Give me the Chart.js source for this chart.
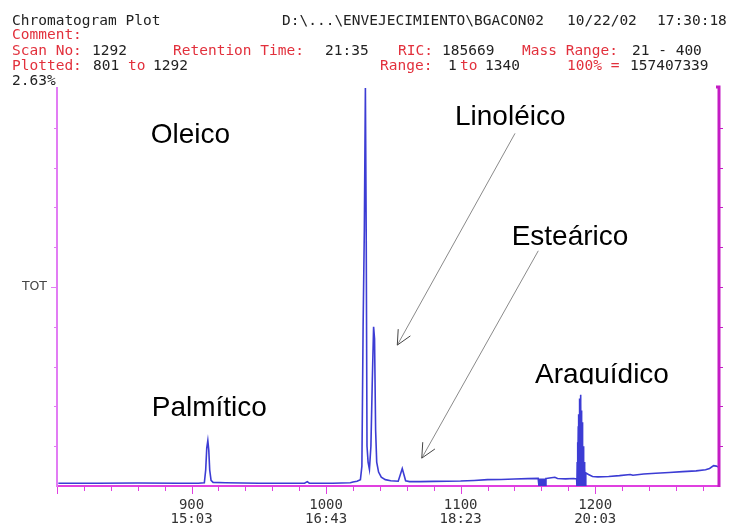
<!DOCTYPE html>
<html>
<head>
<meta charset="utf-8">
<script src="https://cdn.jsdelivr.net/npm/chart.js@4.4.0/dist/chart.umd.min.js"></script>
<style>
  body { margin: 0; background: #fff; }
  #wrap { position: relative; width: 730px; height: 527px; }
  #c { position: absolute; left: 0; top: 0; }
  .h { position: absolute; font-family: "DejaVu Sans Mono", monospace; font-size: 14.5px;
       line-height: 14.5px; white-space: pre; color: #222; }
  .r { color: #e2303c; }
</style>
</head>
<body>
<div id="wrap">
  <canvas id="c" width="730" height="527"></canvas>

  <!-- run header -->
  <div class="h" style="left:12px;top:12.7px">Chromatogram Plot</div>
  <div class="h" style="left:282px;top:12.7px">D:\...\ENVEJECIMIENTO\BGACON02</div>
  <div class="h" style="left:567px;top:12.7px">10/22/02</div>
  <div class="h" style="left:657px;top:12.7px">17:30:18</div>

  <div class="h r" style="left:12px;top:27px">Comment:</div>

  <div class="h r" style="left:12px;top:42.7px">Scan No:</div>
  <div class="h" style="left:92px;top:42.7px">1292</div>
  <div class="h r" style="left:173px;top:42.7px">Retention Time:</div>
  <div class="h" style="left:325px;top:42.7px">21:35</div>
  <div class="h r" style="left:398px;top:42.7px">RIC:</div>
  <div class="h" style="left:442px;top:42.7px">185669</div>
  <div class="h r" style="left:522px;top:42.7px">Mass Range:</div>
  <div class="h" style="left:632px;top:42.7px">21 - 400</div>

  <div class="h r" style="left:12px;top:57.5px">Plotted:</div>
  <div class="h" style="left:93px;top:57.5px">801</div>
  <div class="h r" style="left:128px;top:57.5px">to</div>
  <div class="h" style="left:153px;top:57.5px">1292</div>
  <div class="h r" style="left:380px;top:57.5px">Range:</div>
  <div class="h" style="left:448px;top:57.5px">1</div>
  <div class="h r" style="left:460px;top:57.5px">to</div>
  <div class="h" style="left:485px;top:57.5px">1340</div>
  <div class="h r" style="left:567px;top:57.5px">100% =</div>
  <div class="h" style="left:630px;top:57.5px">157407339</div>

  <div class="h" style="left:12px;top:73px">2.63%</div>
</div>

<script>
// Total ion chromatogram, scans 801-1292, intensity in % of full scale
const scans = [
  801, 830, 860, 890, 905, 909.5, 910.5, 911.3, 912.1, 912.8, 913.5, 914.5, 916,
  925, 950, 975, 984, 986, 987.5, 1005, 1018, 1020, 1023, 1025.5,
  1026.6, 1027.5, 1028.4, 1029.2, 1029.8, 1030.4, 1031.2, 1032.2,
  1033.3, 1034.3, 1035.3, 1036, 1036.8, 1037.6, 1039, 1041, 1044, 1048,
  1053.6, 1056.6, 1059.1, 1062, 1070, 1080, 1090, 1100, 1110, 1120, 1130, 1140, 1150,
  1157.6, 1158.2, 1158.6, 1159.0, 1159.4, 1159.8, 1160.2, 1160.6, 1161.0, 1161.4, 1161.8,
  1162.2, 1162.6, 1163.0, 1163.4, 1163.7,
  1166, 1170, 1172, 1178, 1184,
  1186.2, 1186.4, 1186.6, 1186.8, 1187.0, 1187.2, 1187.4, 1187.6, 1187.8, 1188.0,
  1188.2, 1188.4, 1188.6, 1188.8, 1189.0, 1189.2, 1189.4, 1189.6, 1189.8, 1190.0,
  1190.2, 1190.4, 1190.6, 1190.8, 1191.0, 1191.2, 1191.4, 1191.6, 1191.8, 1192.0,
  1192.3, 1192.6, 1193.0, 1195, 1198,
  1202, 1210, 1218, 1226, 1228, 1236, 1245, 1255, 1265, 1275, 1282, 1285, 1288, 1290, 1292
];
const intensity = [
  0.7, 0.7, 0.75, 0.7, 0.7, 0.8, 4, 9.5, 11.4, 9, 4, 1.4, 0.9,
  0.8, 0.7, 0.7, 0.7, 1.1, 0.7, 0.7, 0.8, 1.0, 1.2, 1.6,
  5, 40, 64, 100, 64, 10, 6, 4.2,
  10, 26, 40, 37, 14, 6, 3.5, 2.2, 1.6, 1.3,
  1.2, 4.4, 1.3, 1.1, 1.1, 1.15, 1.2, 1.25, 1.4, 1.6, 1.65, 1.75, 1.85,
  1.9, 0, 1.9, 0, 1.9, 0, 1.9, 0, 1.9, 0, 1.9,
  0, 1.9, 0, 1.9, 1.9,
  2.0, 2.2, 1.9, 1.8, 1.9,
  1.8, 0, 6, 0, 11, 0, 15, 0, 18, 0,
  20, 0, 22, 0, 22.9, 0, 21, 0, 19, 0,
  16, 0, 13, 0, 10, 0, 8, 0, 6, 0,
  4.5, 0, 3.3, 2.9, 2.4,
  2.3, 2.4, 2.6, 2.9, 2.7, 3.0, 3.2, 3.4, 3.6, 3.8, 4.1, 4.4, 5.1, 5.0, 4.7
];

// x axis: scan numbers with their retention times (mm:ss)
const majorScans = [900, 1000, 1100, 1200];
const timeLabels = ['15:03', '16:43', '18:23', '20:03'];
// y axis: a single labelled tick
const yTickValues = [50];
const yTickLabels = ['TOT'];

// peak names and where their labels / arrows sit, in scan / % units
const peakNames = ['Oleico', 'Linoléico', 'Esteárico', 'Araquídico', 'Palmítico'];
const labelAnchors = [
  { x: 869.6,  y: 86.1 },
  { x: 1095.8, y: 90.7 },
  { x: 1137.9, y: 60.6 },
  { x: 1155.3, y: 25.8, clip: true },
  { x: 870.4,  y: 17.6, clip: true }
];
const arrows = [
  { from: { x: 1140.4, y: 88.6 }, to: { x: 1052.9, y: 35.4 } },
  { from: { x: 1157.7, y: 59.1 }, to: { x: 1071.1, y: 7.0 } }
];

const MAGENTA = '#e040e0';

// small tick marks around the frame and the heavy right-hand border
const frameDecor = {
  id: 'frameDecor',
  afterDraw(chart) {
    const { ctx, chartArea: a, scales: { x, y } } = chart;
    ctx.save();
    ctx.lineWidth = 1;
    // bottom ticks: minor every 20 scans, major every 100
    ctx.strokeStyle = MAGENTA;
    for (let s = 800; s <= 1292; s += 20) {
      const px = Math.round(x.getPixelForValue(s)) + 0.5;
      const len = s % 100 === 0 ? 7 : 4;
      ctx.beginPath();
      ctx.moveTo(px, a.bottom + 1);
      ctx.lineTo(px, a.bottom + 1 + len);
      ctx.stroke();
    }
    // left and right ticks every 10 %
    for (let v = 10; v < 100; v += 10) {
      const py = Math.round(y.getPixelForValue(v)) + 0.5;
      ctx.strokeStyle = '#e27cf4';
      ctx.beginPath();
      ctx.moveTo(a.left - (v === 50 ? 6 : 3), py);
      ctx.lineTo(a.left - 1, py);
      ctx.stroke();
      ctx.strokeStyle = '#c41cc4';
      ctx.beginPath();
      ctx.moveTo(a.right + 1, py);
      ctx.lineTo(a.right + 4, py);
      ctx.stroke();
    }
    // right border
    ctx.strokeStyle = '#c41cc4';
    ctx.lineWidth = 3;
    ctx.beginPath();
    ctx.moveTo(a.right - 3, a.top - 1);
    ctx.lineTo(a.right, a.top - 1);
    ctx.lineTo(a.right, a.bottom + 1);
    ctx.stroke();
    ctx.restore();
  }
};

// peak names and pointer arrows
const peakLabels = {
  id: 'peakLabels',
  afterDatasetsDraw(chart) {
    const { ctx, scales: { x, y } } = chart;
    ctx.save();
    ctx.font = '28px "Liberation Sans", Arial, sans-serif';
    ctx.fillStyle = '#000';
    ctx.textBaseline = 'alphabetic';
    peakNames.forEach((name, i) => {
      const p = labelAnchors[i];
      const px = x.getPixelForValue(p.x);
      const py = y.getPixelForValue(p.y);
      ctx.save();
      if (p.clip) {
        ctx.beginPath();
        ctx.rect(px - 5, py - 40, 200, 41);
        ctx.clip();
      }
      ctx.fillText(name, px, py);
      ctx.restore();
    });
    arrows.forEach(ar => {
      const x0 = x.getPixelForValue(ar.from.x), y0 = y.getPixelForValue(ar.from.y);
      const x1 = x.getPixelForValue(ar.to.x),   y1 = y.getPixelForValue(ar.to.y);
      ctx.strokeStyle = '#8a8a8a';
      ctx.lineWidth = 1;
      ctx.beginPath();
      ctx.moveTo(x0, y0);
      ctx.lineTo(x1, y1);
      ctx.stroke();
      const ang = Math.atan2(y0 - y1, x0 - x1);
      const head = 16, spread = 0.45;
      ctx.strokeStyle = '#444';
      ctx.beginPath();
      ctx.moveTo(x1 + head * Math.cos(ang - spread), y1 + head * Math.sin(ang - spread));
      ctx.lineTo(x1, y1);
      ctx.lineTo(x1 + head * Math.cos(ang + spread), y1 + head * Math.sin(ang + spread));
      ctx.stroke();
    });
    ctx.restore();
  }
};

new Chart(document.getElementById('c'), {
  type: 'line',
  data: {
    datasets: [{
      data: scans.map((s, i) => ({ x: s, y: intensity[i] })),
      borderColor: '#3c3cd4',
      borderWidth: 1.6,
      pointRadius: 0,
      tension: 0,
      fill: false
    }]
  },
  options: {
    responsive: false,
    animation: false,
    events: [],
    layout: { padding: { top: 88, right: 11, left: 0, bottom: 0 } },
    plugins: { legend: { display: false }, tooltip: { enabled: false }, title: { display: false } },
    scales: {
      x: {
        type: 'linear',
        min: 800,
        max: 1292,
        afterBuildTicks(s) { s.ticks = majorScans.map(v => ({ value: v })); },
        afterFit(s) { s.height = 41; },
        grid: { display: false, drawTicks: false },
        border: { display: true, color: MAGENTA, width: 2 },
        ticks: {
          autoSkip: false,
          maxRotation: 0,
          padding: 12,
          color: '#333',
          font: { family: '"DejaVu Sans Mono", monospace', size: 14, lineHeight: 1 },
          callback(v, i) { return [String(v), timeLabels[i]]; }
        }
      },
      y: {
        min: 0,
        max: 100,
        afterBuildTicks(s) { s.ticks = yTickValues.map(v => ({ value: v })); },
        afterFit(s) { s.width = 57; },
        grid: { display: false, drawTicks: false },
        border: { display: true, color: '#e27cf4', width: 2 },
        ticks: {
          padding: 10,
          color: '#444',
          font: { family: '"DejaVu Sans", sans-serif', size: 12.5 },
          callback(v, i) { return yTickLabels[i]; }
        }
      }
    }
  },
  plugins: [frameDecor, peakLabels]
});
</script>
</body>
</html>
